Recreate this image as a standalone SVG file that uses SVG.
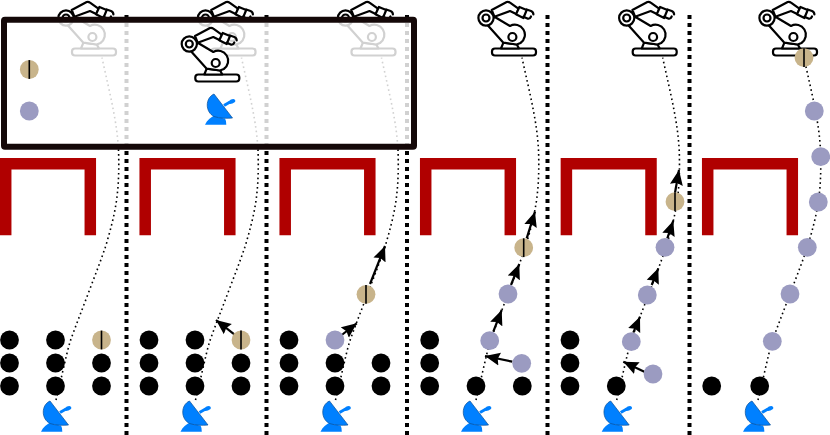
<svg xmlns="http://www.w3.org/2000/svg" width="830" height="435" viewBox="0 0 830 435">
<style>
.r{fill:#fff;stroke:#000;stroke-width:2.2;stroke-linejoin:round;stroke-linecap:round}
.n{fill:none;stroke:#000;stroke-width:2.2;stroke-linejoin:round;stroke-linecap:round}
.k{fill:#000}
.p{fill:#9b9bc1}
.t{fill:#c8b48b}
.tl{stroke:#000;stroke-width:1.6}
.div{stroke:#000;stroke-width:4;stroke-dasharray:4 4;fill:none}
.cur{fill:none;stroke:#000;stroke-width:1.6;stroke-dasharray:1.6 3.1}
.ar{stroke:#000;stroke-width:2.2;fill:none;marker-end:url(#ah)}
.w{fill:none;stroke:#b00000;stroke-width:11.5;stroke-linejoin:miter}
</style>
<defs>
<marker id="ah" markerUnits="userSpaceOnUse" markerWidth="16" markerHeight="14" refX="15" refY="7" orient="auto"><path d="M0 .5L15 7L0 13.5L2 7Z" fill="#000"/></marker>
<g id="robot">
<rect class="r" x="72" y="48.5" width="44" height="7" rx="3"/>
<path class="r" d="M83.4 42.7L81 48.5H99L96.7 44.3Z"/>
<path class="r" d="M74.4 16.7L90 26A10 10 0 0 1 100.5 43L96.7 44.5L83.4 42.7L67.7 25.3Z"/>
<circle class="n" cx="92.4" cy="37" r="4"/>
<path class="r" d="M71.7 10L86.7 2Q88.5 1.5 90 2.7L98.4 8.7L96.7 14.3L90 11L74.4 16.7Z"/>
<path class="r" d="M99.4 7L106.7 10L103.4 18L96 14.3Z"/>
<path class="n" d="M106.7 9.5L111 11Q113.4 12 113.4 14.5M103.4 16.7L108 18.7Q110 19 111 16.5"/>
<circle class="r" cx="66" cy="18" r="7.6"/>
<circle class="n" cx="66" cy="18" r="3.5"/>
</g>
<g id="dish">
<path d="M41 431.7C43 427 47 424 50.5 422.5C55 425 59 425.3 61 425.5Q62.5 428 62.3 431.7Z" fill="#0080ff"/>
<path d="M60 412.5L66 409" stroke="#0080ff" stroke-width="3" fill="none"/>
<path d="M64.5 409Q66 406 69.5 406Q72 406.5 71 409Q68 411.3 65.5 411Z" fill="#0080ff"/>
<path d="M50 401C41 405 41 419 50 423.5C56 425.5 63 425.5 68.5 425Z" fill="#0080ff" stroke="#0a4f96" stroke-width=".7"/>
</g>
<path id="curve" class="cur" d="M56 400C60 385 66 355 70.3 341C76 325 82 310 88 294C94 278 100 263 105.3 247.3C110 232 114 217 116.3 202C118.5 187 119 172 118.7 156.7C118.2 125 110 95 102 57.7"/>
<g id="tan"><circle class="t" r="9.4"/><path class="tl" d="M0-9.4V9.4"/></g>
<path id="wall" class="w" d="M5.7 235.3V163.8H90.3V235.3"/>
</defs>
<rect width="830" height="435" fill="#fff"/>
<g id="dividers">
<path class="div" d="M126.5 15V435"/><path class="div" d="M266.5 15V435"/><path class="div" d="M407 15V435"/><path class="div" d="M547.5 15V435"/><path class="div" d="M689.5 15V435"/>
</g>
<g id="walls">
<use href="#wall"/><use href="#wall" x="139.5"/><use href="#wall" x="279.5"/><use href="#wall" x="420"/><use href="#wall" x="560.7"/><use href="#wall" x="702"/>
</g>
<g id="robots">
<use href="#robot"/><use href="#robot" x="139.5"/><use href="#robot" x="279.5"/><use href="#robot" x="420"/><use href="#robot" x="560.7"/><use href="#robot" x="701"/>
</g>
<g id="dishes">
<use href="#dish"/><use href="#dish" x="139.5"/><use href="#dish" x="279.5"/><use href="#dish" x="420"/><use href="#dish" x="560.7"/><use href="#dish" x="702"/>
</g>
<g id="connectors">
<use href="#curve"/><use href="#curve" x="139.5"/><use href="#curve" x="279.5"/><use href="#curve" x="420"/><use href="#curve" x="560.7"/><use href="#curve" x="702"/>
<path class="ar" d="M234.3 334.3L216 320"/>
<path class="ar" d="M341.7 335L356.7 323.3"/>
<path class="ar" d="M370 284L385 246"/>
<path class="ar" d="M512.3 361.7L485 356"/>
<path class="ar" d="M493.3 331.7L501.7 310"/>
<path class="ar" d="M511 285L519.3 264"/>
<path class="ar" d="M526.7 238.3L535 211.7"/>
<path class="ar" d="M644.3 371.7L623.3 361.7"/>
<path class="ar" d="M633.3 332.7L640 316.7"/>
<path class="ar" d="M651.7 285L658.3 268.3"/>
<path class="ar" d="M667.3 238.3L673.3 220.7"/>
<path class="ar" d="M675 192.7L679 170"/>
</g>
<g id="panel1">
<g class="k"><circle cx="9.5" cy="340" r="9.4"/><circle cx="9.5" cy="363" r="9.4"/><circle cx="9.5" cy="386" r="9.4"/><circle cx="55.5" cy="340" r="9.4"/><circle cx="55.5" cy="363" r="9.4"/><circle cx="55.5" cy="386" r="9.4"/><circle cx="101.5" cy="363" r="9.4"/><circle cx="101.5" cy="386" r="9.4"/></g>
<use href="#tan" x="101.5" y="340"/>
</g>
<g id="panel2">
<g class="k"><circle cx="149" cy="340" r="9.4"/><circle cx="149" cy="363" r="9.4"/><circle cx="149" cy="386" r="9.4"/><circle cx="195" cy="340" r="9.4"/><circle cx="195" cy="363" r="9.4"/><circle cx="195" cy="386" r="9.4"/><circle cx="241" cy="363" r="9.4"/><circle cx="241" cy="386" r="9.4"/></g>
<use href="#tan" x="241" y="340"/>
</g>
<g id="panel3">
<g class="k"><circle cx="289" cy="340" r="9.4"/><circle cx="289" cy="363" r="9.4"/><circle cx="289" cy="386" r="9.4"/><circle cx="335" cy="363" r="9.4"/><circle cx="335" cy="386" r="9.4"/><circle cx="381" cy="363" r="9.4"/><circle cx="381" cy="386" r="9.4"/></g>
<circle class="p" cx="335" cy="340" r="9.4"/>
<use href="#tan" x="366" y="294.3"/>
</g>
<g id="panel4">
<g class="k"><circle cx="429.7" cy="340" r="9.4"/><circle cx="429.7" cy="363" r="9.4"/><circle cx="429.7" cy="386" r="9.4"/><circle cx="476" cy="386" r="9.4"/><circle cx="522.3" cy="386" r="9.4"/></g>
<g class="p"><circle cx="489.7" cy="340.7" r="9.4"/><circle cx="521.7" cy="363.3" r="9.4"/><circle cx="508" cy="294" r="9.4"/></g>
<use href="#tan" x="523.7" y="247.7"/>
</g>
<g id="panel5">
<g class="k"><circle cx="570" cy="340" r="9.4"/><circle cx="570" cy="363" r="9.4"/><circle cx="570" cy="386" r="9.4"/><circle cx="616.3" cy="386" r="9.4"/></g>
<g class="p"><circle cx="653" cy="374" r="9.4"/><circle cx="631.3" cy="341.7" r="9.4"/><circle cx="647.3" cy="295" r="9.4"/><circle cx="665" cy="247.3" r="9.4"/></g>
<use href="#tan" x="675" y="201.7"/>
</g>
<g id="panel6">
<g class="k"><circle cx="711.7" cy="386" r="9.4"/><circle cx="759.7" cy="386" r="9.4"/></g>
<g class="p"><circle cx="772.3" cy="341.3" r="9.4"/><circle cx="790" cy="294" r="9.4"/><circle cx="807.3" cy="247.3" r="9.4"/><circle cx="818.3" cy="202" r="9.4"/><circle cx="820.7" cy="156.7" r="9.4"/><circle cx="814.3" cy="111" r="9.4"/></g>
<use href="#tan" x="804" y="57.7"/>
</g>
<g id="legend">
<rect x="4" y="19.7" width="410" height="127" rx="1" fill="#fff" fill-opacity=".82" stroke="#140808" stroke-width="6" stroke-linejoin="round"/>
<use href="#tan" x="29.3" y="69.5"/>
<circle class="p" cx="29.3" cy="111" r="9.4"/>
<use href="#robot" x="123.3" y="26"/>
<use href="#dish" x="164" y="-307"/>
</g>
</svg>
